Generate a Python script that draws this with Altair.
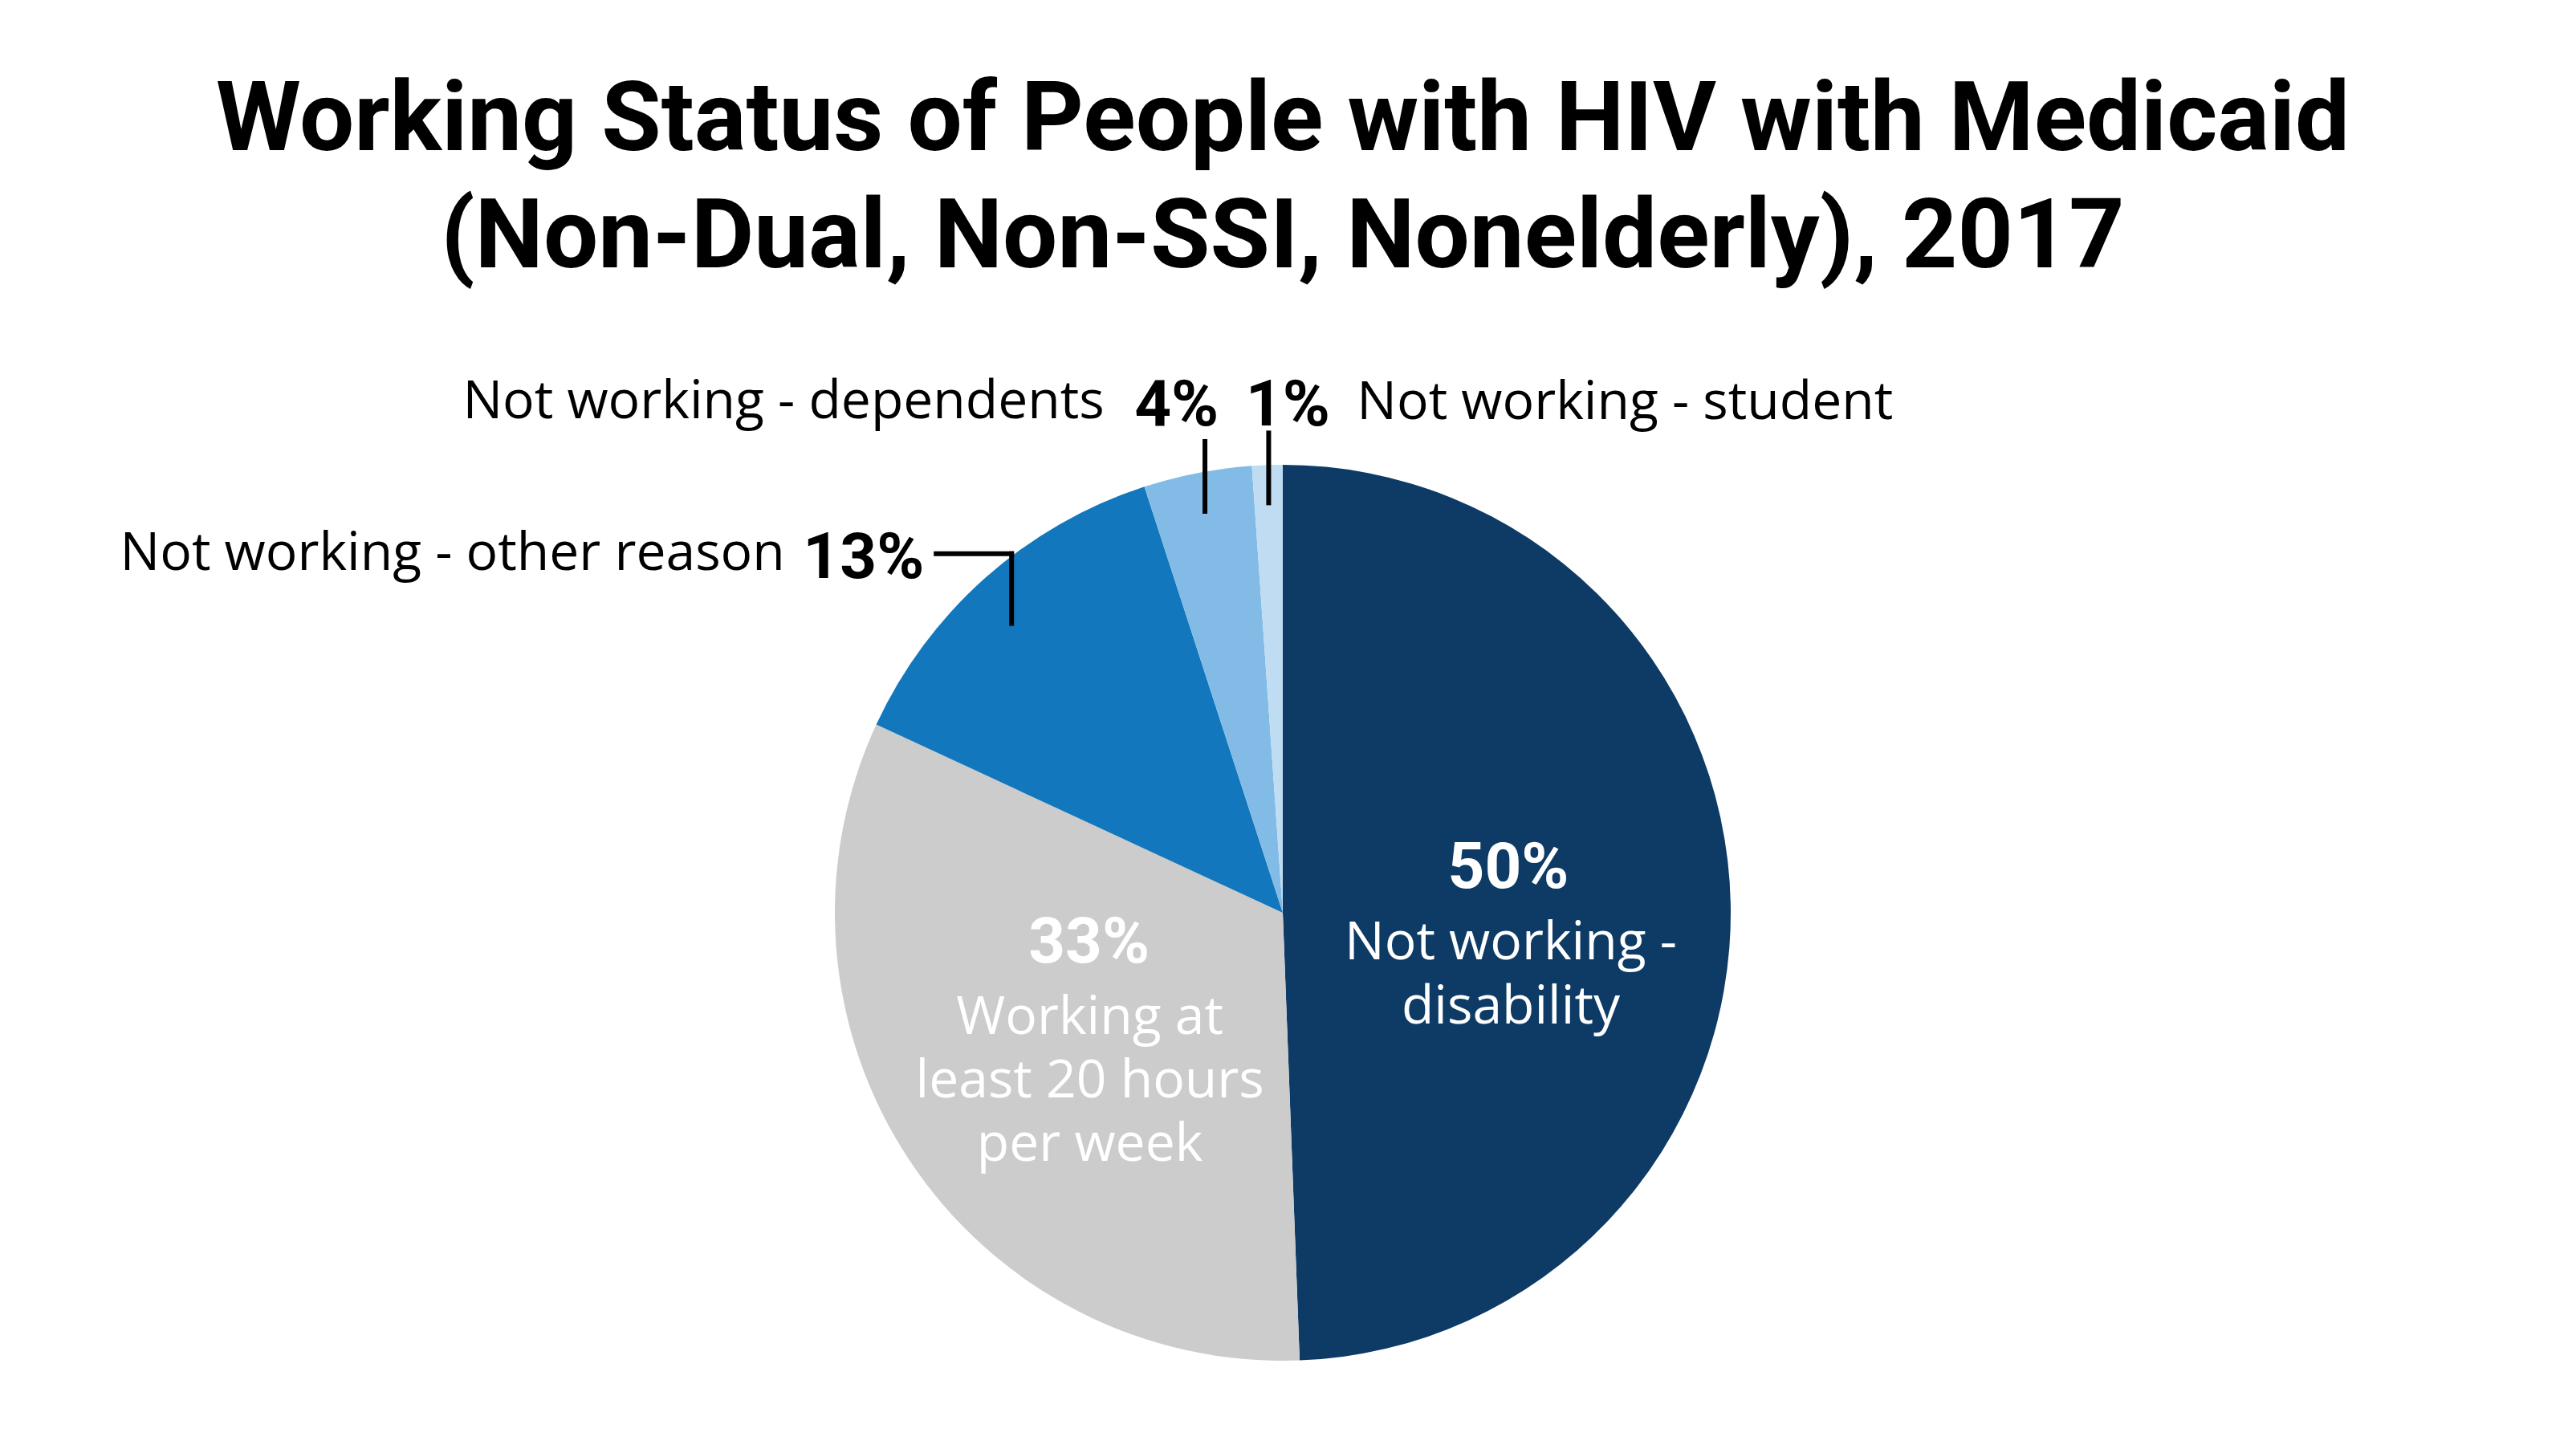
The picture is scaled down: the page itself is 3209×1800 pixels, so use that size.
import altair as alt
import pandas as pd

# slice data, clockwise from 12 o'clock
categories = [
    "Not working - disability",
    "Working at least 20 hours per week",
    "Not working - other reason",
    "Not working - dependents",
    "Not working - student",
]
values = [49.4, 32.5, 13.1, 3.9, 1.1]
pct_labels = ["50%", "33%", "13%", "4%", "1%"]
slice_names = [
    "Not working -\ndisability",
    "Working at\nleast 20 hours\nper week",
    "Not working - other reason",
    "Not working - dependents",
    "Not working - student",
]
colors = ["#0d3b66", "#cccccc", "#1277bc", "#82bbe6", "#bfdcf3"]

df = pd.DataFrame({
    "cat": categories,
    "value": values,
    "pct": pct_labels,
    "name": slice_names,
    "idx": list(range(len(categories))),
})

# plot area; the pie sits at its centre
W, H = 3180, 1138
xs = alt.Scale(domain=[-W / 2, W / 2], nice=False)
ys = alt.Scale(domain=[-H / 2, H / 2], nice=False, reverse=True)

base = alt.Chart(df).transform_joinaggregate(
    total="sum(value)"
).transform_window(
    cum="sum(value)", sort=[alt.SortField("idx")], frame=[None, 0]
).transform_calculate(
    mid="2 * PI * (datum.cum - datum.value / 2) / datum.total"
)

pie = base.mark_arc(outerRadius=558).encode(
    theta=alt.Theta("value:Q", stack=True),
    color=alt.Color("cat:N", scale=alt.Scale(domain=categories, range=colors), legend=None),
    order=alt.Order("idx:Q"),
)


def label(cat, field, r, dx, dy, **style):
    # text anchored on the slice's middle ray at radius r
    return base.transform_filter(alt.datum.cat == cat).transform_calculate(
        lx=f"{r} * sin(datum.mid)", ly=f"{-r} * cos(datum.mid)"
    ).mark_text(dx=dx, dy=dy, lineBreak="\n", **style).encode(
        x=alt.X("lx:Q", scale=xs, axis=None),
        y=alt.Y("ly:Q", scale=ys, axis=None),
        text=alt.Text(f"{field}:N"),
    )


pct_style = dict(font="Roboto", fontSize=80, fontWeight="bold", align="center", baseline="alphabetic")
name_style = dict(font="Open Sans", fontSize=66, baseline="alphabetic")

labels = [
    # inside
    label(categories[0], "pct", 290, -9, -26, color="white", **pct_style),
    label(categories[0], "name", 290, -6, 63, color="white", align="center", lineHeight=80, **name_style),
    label(categories[1], "pct", 290, 0, -99, color="white", **pct_style),
    label(categories[1], "name", 290, 1, -10, color="white", align="center", lineHeight=79, **name_style),
    # outside
    label(categories[2], "pct", 600, -124, 32, color="black", **pct_style),
    label(categories[2], "name", 600, -222, 22, color="black", align="right", **name_style),
    label(categories[3], "pct", 600, -18, -18, color="black", **pct_style),
    label(categories[3], "name", 600, -108, -27, color="black", align="right", **name_style),
    label(categories[4], "pct", 600, 27, -7, color="black", **pct_style),
    label(categories[4], "name", 600, 113, -15, color="black", align="left", **name_style),
]

# leader lines for the small slices
leaders = base.transform_filter(
    alt.FieldOneOfPredicate(field="cat", oneOf=categories[2:])
).transform_calculate(
    lx="509 * sin(datum.mid)", ly="-598 * cos(datum.mid)", ly2="datum.ly + 87"
)
vert = leaders.mark_rule(strokeWidth=6, color="black", strokeCap="square").encode(
    x=alt.X("lx:Q", scale=xs, axis=None),
    y=alt.Y("ly:Q", scale=ys, axis=None),
    y2="ly2:Q",
)
horiz = leaders.transform_filter(alt.datum.cat == categories[2]).transform_calculate(
    lx0="datum.lx - 94"
).mark_rule(strokeWidth=6, color="black", strokeCap="square").encode(
    x=alt.X("lx0:Q", scale=xs, axis=None),
    x2="lx:Q",
    y=alt.Y("ly:Q", scale=ys, axis=None),
)

chart = alt.layer(pie, vert, horiz, *labels).properties(
    width=W,
    height=H,
    padding={"left": 0, "top": 560, "right": 0, "bottom": 0},
    autosize=alt.AutoSizeParams(type="none"),
    background="white",
    title=alt.TitleParams(
        text=[
            "Working Status of People with HIV with Medicaid",
            "(Non-Dual, Non-SSI, Nonelderly), 2017",
        ],
        font="Roboto",
        fontSize=121,
        fontWeight="bold",
        lineHeight=146,
        color="black",
        anchor="middle",
        offset=108,
    ),
).configure_view(stroke=None)

chart.save("out.html", embed_options={"renderer": "svg", "actions": False})
